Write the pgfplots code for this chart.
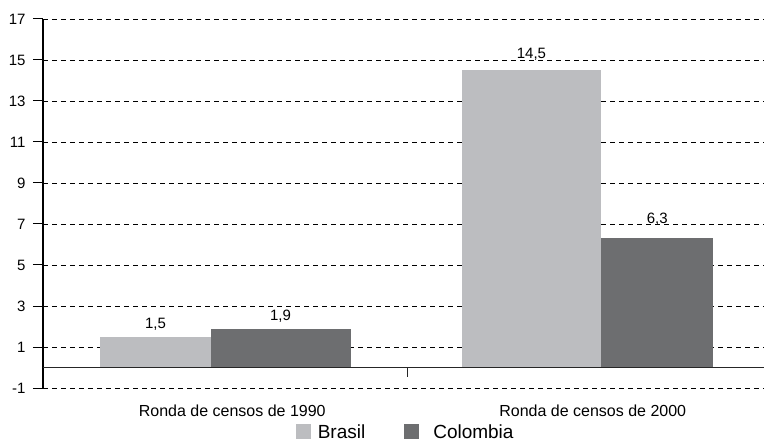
\documentclass[border=0pt]{standalone}
\usepackage{pgfplots}
\pgfplotsset{compat=1.18}
\usepackage{fontspec}
\setmainfont{Liberation Sans}
\definecolor{bra}{RGB}{188,189,192}
\definecolor{col}{RGB}{109,110,112}
\pgfplotsset{
  lbl/.style={nodes near coords={\pgfmathprintnumber[use comma,fixed,precision=1,fixed zerofill]{\pgfplotspointmeta}},
    every node near coord/.append style={font=\fontsize{15bp}{17bp}\selectfont, black, anchor=south, yshift=#1}},
}
\begin{document}
\begin{tikzpicture}
\begin{axis}[
 name=ax, scale only axis, width=721bp, height=369bp,
 xmin=-0.5, xmax=1.5, ymin=-1, ymax=17,
 axis lines*=left,
 x axis line style={draw=none},
 y axis line style={line width=1.2bp, black},
 xtick={0,1}, xticklabels={Ronda de censos de 1990, Ronda de censos de 2000},
 x tick style={draw=none},
 xticklabel style={font=\fontsize{16bp}{19bp}\selectfont, yshift=-3bp, xshift=9bp},
 ytick={-1,1,...,17},
 y tick style={line width=1bp, black},
 tick align=outside, major tick length=10bp,
 yticklabel style={font=\fontsize{15bp}{17bp}\selectfont, xshift=-4bp},
 ymajorgrids, grid style={line width=0.9bp, black, dash pattern=on 5bp off 4bp},
 /pgf/number format/assume math mode=true,
 legend style={at={(0.503,-0.119)}, anchor=center, draw=none, fill=none,
   font=\fontsize{19bp}{22bp}\selectfont, legend columns=2,
   /tikz/every even column/.append style={column sep=37bp}},
]
\addplot[ybar, bar shift=0pt, bar width=0.3075, fill=bra, draw=none, lbl=3bp,
  legend image code/.code={\fill[bra] (0bp,-7.5bp) rectangle (15bp,7.5bp); \path (20bp,0bp);}]
  coordinates {(-0.188,1.5)};
\addlegendentry{Brasil}
\addplot[ybar, bar shift=0pt, bar width=0.388, fill=col, draw=none, lbl=3bp,
  legend image code/.code={\fill[col] (0bp,-7.5bp) rectangle (15bp,7.5bp); \path (27bp,0bp);}]
  coordinates {(0.159,1.9)};
\addlegendentry{Colombia}
\addplot[ybar, bar shift=0pt, bar width=0.385, fill=bra, draw=none, lbl=6bp, forget plot]
  coordinates {(0.855,14.5)};
\addplot[ybar, bar shift=0pt, bar width=0.31, fill=col, draw=none, lbl=9bp, forget plot]
  coordinates {(1.204,6.3)};
\draw[line width=1bp, black!85] (axis cs:-0.5,0) -- (axis cs:1.5,0);
\draw[line width=1bp, black!85] (axis cs:0.51,0) -- ([yshift=-9bp]axis cs:0.51,0);
\end{axis}
\pgfresetboundingbox
\path[use as bounding box] ([shift={(-43bp,-57bp)}]ax.south west) rectangle ([shift={(1bp,19bp)}]ax.north east);
\end{tikzpicture}
\end{document}
